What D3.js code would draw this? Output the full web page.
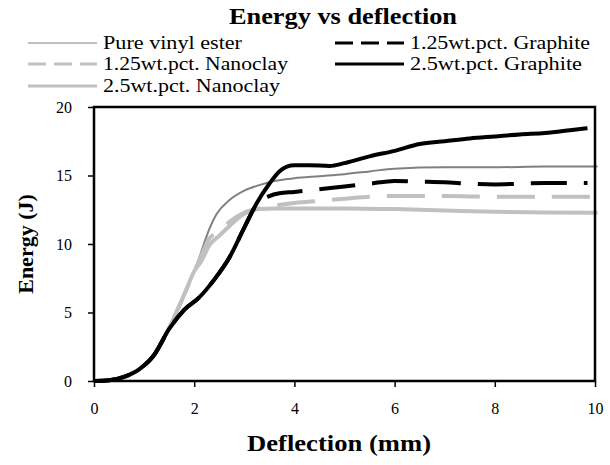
<!DOCTYPE html>
<html lang="en">
<head>
  <meta charset="UTF-8">
  <title>Energy vs deflection</title>
  <script src="https://cdn.jsdelivr.net/npm/d3@7"></script>
  <style>
    body { margin: 0; background: #fff; }
    svg text { font-family: "Liberation Serif", "DejaVu Serif", serif !important; fill: #000; }
  </style>
</head>
<body>
<div id="chart"></div>
<script>

// series names in legend order
var seriesNames = ["Pure vinyl ester", "1.25wt.pct. Graphite", "1.25wt.pct. Nanoclay",
                   "2.5wt.pct. Graphite", "2.5wt.pct. Nanoclay"];

var pureX = [0, 0.3, 0.6, 0.9, 1.2, 1.5, 1.8, 2.0, 2.12, 2.25, 2.45, 2.7, 3.0, 3.3, 3.6, 4.0, 4.5, 5.0, 5.5, 6.0, 7.0, 8.0, 9.0, 10.05];
var pureY = [0, 0.05, 0.3, 0.85, 1.9, 3.9, 6.3, 8.0, 9.2, 10.6, 12.2, 13.2, 13.9, 14.3, 14.6, 14.8, 14.95, 15.1, 15.3, 15.5, 15.6, 15.6, 15.65, 15.65];

var graph125X = [0, 0.3, 0.6, 0.9, 1.2, 1.5, 1.8, 2.1, 2.4, 2.7, 3.0, 3.25, 3.5, 3.7, 4.0, 4.5, 5.0, 5.5, 6.0, 6.5, 7.0, 7.5, 8.0, 8.5, 9.0, 9.5, 9.85];
var graph125Y = [0, 0.05, 0.3, 0.85, 1.9, 3.8, 5.2, 6.1, 7.4, 9.0, 11.2, 12.9, 13.5, 13.7, 13.8, 14.0, 14.2, 14.4, 14.6, 14.55, 14.5, 14.4, 14.35, 14.4, 14.45, 14.45, 14.45];

var nano125X = [0, 0.3, 0.6, 0.9, 1.2, 1.5, 1.8, 2.0, 2.15, 2.3, 2.5, 2.7, 3.0, 3.3, 3.6, 4.0, 4.5, 5.0, 5.5, 6.0, 7.0, 8.0, 9.0, 10.05];
var nano125Y = [0, 0.05, 0.3, 0.85, 1.9, 3.9, 6.3, 8.0, 9.2, 10.4, 10.9, 11.6, 12.3, 12.6, 12.8, 13.0, 13.15, 13.3, 13.45, 13.5, 13.5, 13.45, 13.45, 13.45];

var graph25X = [0, 0.3, 0.6, 0.9, 1.2, 1.5, 1.8, 2.1, 2.4, 2.7, 3.0, 3.25, 3.5, 3.7, 3.85, 4.0, 4.3, 4.7, 5.0, 5.5, 6.0, 6.5, 7.0, 7.5, 8.0, 8.5, 9.0, 9.5, 9.85];
var graph25Y = [0, 0.05, 0.3, 0.85, 1.9, 3.8, 5.2, 6.1, 7.4, 9.0, 11.2, 13.0, 14.4, 15.3, 15.65, 15.75, 15.75, 15.7, 15.9, 16.4, 16.8, 17.3, 17.5, 17.7, 17.85, 18.0, 18.1, 18.3, 18.45];

var nano25X = [0, 0.3, 0.6, 0.9, 1.2, 1.5, 1.8, 2.0, 2.15, 2.3, 2.5, 2.7, 3.0, 3.3, 3.6, 4.0, 5.0, 6.0, 7.0, 8.0, 9.0, 10.05];
var nano25Y = [0, 0.05, 0.3, 0.85, 1.9, 3.9, 6.3, 8.0, 8.8, 9.9, 10.6, 11.3, 12.2, 12.55, 12.6, 12.6, 12.6, 12.55, 12.45, 12.35, 12.3, 12.28];

var xTicks = [0, 2, 4, 6, 8, 10];
var yTicks = [0, 5, 10, 15, 20];

var margin = {top: 107, right: 15, bottom: 84, left: 94};
var width = 610 - margin.left - margin.right;
var height = 465 - margin.top - margin.bottom;

var svg = d3.select("#chart")
    .append("svg")
    .attr("width", 610)
    .attr("height", 465);

var g = svg.append("g")
    .attr("transform", "translate(" + margin.left + "," + margin.top + ")");

var xScale = d3.scaleLinear().domain([0, 10]).range([0, width]);
var yScale = d3.scaleLinear().domain([0, 20]).range([height, 0]);

// styles per series
var styles = {
  "Pure vinyl ester":      {color: "#808080", w: 2, dash: null, legDash: null},
  "1.25wt.pct. Graphite":  {color: "#000000", w: 4, dash: "36,17", legDash: "18,8"},
  "1.25wt.pct. Nanoclay":  {color: "#c0c0c0", w: 4, dash: "38,17", legDash: "18,8"},
  "2.5wt.pct. Graphite":   {color: "#000000", w: 4, dash: null, legDash: null},
  "2.5wt.pct. Nanoclay":   {color: "#c0c0c0", w: 4, dash: null, legDash: null}
};

function zip(xs, ys) { return xs.map(function(x, i) { return [x, ys[i]]; }); }

var series = {
  "Pure vinyl ester": zip(pureX, pureY),
  "1.25wt.pct. Graphite": zip(graph125X, graph125Y),
  "1.25wt.pct. Nanoclay": zip(nano125X, nano125Y),
  "2.5wt.pct. Graphite": zip(graph25X, graph25Y),
  "2.5wt.pct. Nanoclay": zip(nano25X, nano25Y)
};

// axes
var xAxis = g.append("g")
    .attr("transform", "translate(0," + height + ")")
    .call(d3.axisBottom(xScale).tickValues(xTicks).tickSize(6).tickPadding(16));
var yAxis = g.append("g")
    .call(d3.axisLeft(yScale).tickValues(yTicks).tickSize(6).tickPadding(16));

[xAxis, yAxis].forEach(function(a) {
  a.attr("font-family", null).attr("font-size", null);
  a.select(".domain").remove();
  a.selectAll("line").attr("stroke", "#000").attr("stroke-width", 1.5);
  a.selectAll("text").style("font-size", "16px");
});

// curves
var line = d3.line()
    .x(function(d) { return xScale(d[0]); })
    .y(function(d) { return yScale(d[1]); })
    .curve(d3.curveMonotoneX);

var drawOrder = ["Pure vinyl ester", "1.25wt.pct. Nanoclay", "2.5wt.pct. Nanoclay",
                 "1.25wt.pct. Graphite", "2.5wt.pct. Graphite"];

g.selectAll("path.series")
    .data(drawOrder)
    .enter().append("path")
    .attr("class", "series")
    .attr("d", function(d) { return line(series[d]); })
    .attr("fill", "none")
    .attr("stroke", function(d) { return styles[d].color; })
    .attr("stroke-width", function(d) { return styles[d].w; })
    .attr("stroke-dasharray", function(d) { return styles[d].dash; })
    .attr("stroke-linejoin", "round");

// plot frame
g.append("rect")
    .attr("x", 0).attr("y", 0)
    .attr("width", width).attr("height", height)
    .attr("fill", "none")
    .attr("stroke", "#000")
    .attr("stroke-width", 2.5);

// titles
svg.append("text")
    .attr("x", 343)
    .attr("y", 24)
    .attr("text-anchor", "middle")
    .attr("textLength", 228)
    .attr("lengthAdjust", "spacingAndGlyphs")
    .style("font-size", "24px")
    .style("font-weight", "bold")
    .text("Energy vs deflection");

svg.append("text")
    .attr("x", 339)
    .attr("y", 451)
    .attr("text-anchor", "middle")
    .attr("textLength", 184)
    .attr("lengthAdjust", "spacingAndGlyphs")
    .style("font-size", "23px")
    .style("font-weight", "bold")
    .text("Deflection (mm)");

svg.append("text")
    .attr("transform", "translate(33," + (margin.top + height / 2) + ") rotate(-90)")
    .attr("text-anchor", "middle")
    .style("font-size", "22px")
    .style("font-weight", "bold")
    .text("Energy (J)");

// legend
var legendPos = [
  {x: 28, y: 43}, {x: 335, y: 43},
  {x: 28, y: 64}, {x: 335, y: 64},
  {x: 28, y: 86}
];
var legendLen = [139, 180, 185, 172, 177];

var legend = svg.selectAll("g.legend")
    .data(seriesNames)
    .enter().append("g")
    .attr("class", "legend")
    .attr("transform", function(d, i) { return "translate(" + legendPos[i].x + "," + legendPos[i].y + ")"; });

legend.append("line")
    .attr("x1", 0).attr("x2", 69)
    .attr("y1", 0).attr("y2", 0)
    .attr("stroke", function(d) { return styles[d].color; })
    .attr("stroke-width", function(d) { return styles[d].w - 1; })
    .attr("stroke-dasharray", function(d) { return styles[d].legDash; });

legend.append("text")
    .attr("x", 75)
    .attr("y", 6)
    .attr("textLength", function(d, i) { return legendLen[i]; })
    .attr("lengthAdjust", "spacingAndGlyphs")
    .style("font-size", "18px")
    .text(function(d) { return d; });

</script>
</body>
</html>
